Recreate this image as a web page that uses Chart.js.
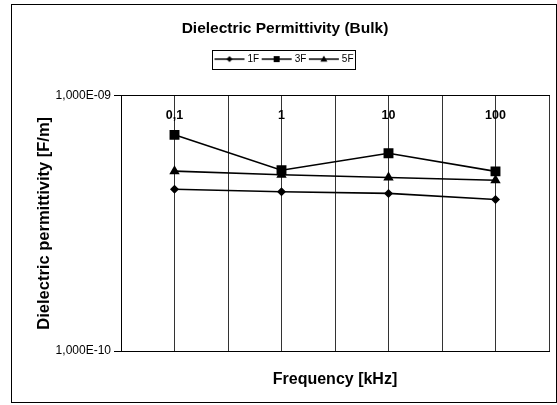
<!DOCTYPE html>
<html>
<head>
<meta charset="utf-8">
<script src="https://cdn.jsdelivr.net/npm/chart.js@4"></script>
<style>
  body { margin: 0; background: #fff; }
  #wrap { position: relative; width: 557px; height: 405px; }
  #frame { position: absolute; left: 11px; top: 4px; width: 546px; height: 399px;
           box-sizing: border-box; border: 1px solid #000; pointer-events: none; }
</style>
</head>
<body>
<div id="wrap">
  <canvas id="chart" width="557" height="405"></canvas>
  <div id="frame"></div>
</div>
<script>
const freqLabels = ['0,1', '1', '10', '100'];
const series1F = [4.30e-10, 4.20e-10, 4.14e-10, 3.92e-10];
const series3F = [7.02e-10, 5.10e-10, 5.95e-10, 5.05e-10];
const series5F = [5.06e-10, 4.90e-10, 4.78e-10, 4.66e-10];
const yTicks = [1e-10, 1e-9];

Chart.defaults.font.family = '"Liberation Sans", Arial, sans-serif';
Chart.defaults.color = '#000';

// each category sits in the middle of a pair of grid cells
function toPoints(values) {
  return values.map((v, i) => ({ x: 2 * i + 1, y: v }));
}

function sciLabel(v) {
  const exp = Math.round(Math.log10(v));
  const sign = exp < 0 ? '-' : '+';
  return '1,000E' + sign + String(Math.abs(exp)).padStart(2, '0');
}

function legendIcon(style, r) {
  const c = document.createElement('canvas');
  c.width = 32;
  c.height = 10;
  const g = c.getContext('2d');
  g.strokeStyle = '#000';
  g.lineWidth = 1.5;
  g.beginPath();
  g.moveTo(1, 5);
  g.lineTo(31, 5);
  g.stroke();
  g.fillStyle = '#000';
  g.beginPath();
  if (style === 'rectRot') {
    g.moveTo(16, 5 - r); g.lineTo(16 + r, 5); g.lineTo(16, 5 + r); g.lineTo(16 - r, 5);
  } else if (style === 'rect') {
    g.rect(16 - r, 5 - r, 2 * r, 2 * r);
  } else {
    g.moveTo(16, 5 - r); g.lineTo(16 + r, 5 + r * 0.7); g.lineTo(16 - r, 5 + r * 0.7);
  }
  g.closePath();
  g.fill();
  return c;
}

const legendIcons = [legendIcon('rectRot', 3), legendIcon('rect', 3), legendIcon('triangle', 3.5)];

const legendBorder = {
  id: 'legendBorder',
  afterDraw(chart) {
    const boxes = chart.legend.legendHitBoxes;
    if (!boxes || !boxes.length) return;
    const left = boxes[0].left - 4;
    const last = boxes[boxes.length - 1];
    const right = last.left + last.width + 2;
    const mid = boxes[0].top + boxes[0].height / 2;
    const ctx = chart.ctx;
    ctx.save();
    ctx.strokeStyle = '#000';
    ctx.lineWidth = 1;
    ctx.strokeRect(Math.round(left) + 0.5, Math.round(mid - 9.5) + 0.5, Math.round(right - left), 19);
    ctx.restore();
  }
};

function makeSet(label, values, style, radius) {
  return {
    label,
    data: toPoints(values),
    borderColor: '#000',
    backgroundColor: '#000',
    borderWidth: 1.6,
    pointStyle: style,
    pointRadius: radius,
    pointBorderWidth: 0,
    pointHoverRadius: radius,
    tension: 0
  };
}

new Chart(document.getElementById('chart'), {
  type: 'line',
  data: {
    datasets: [
      makeSet('1F', series1F, 'rectRot', 4.5),
      makeSet('3F', series3F, 'rect', 7),
      makeSet('5F', series5F, 'triangle', 6)
    ]
  },
  plugins: [legendBorder],
  options: {
    responsive: false,
    animation: false,
    layout: { padding: { left: 21, right: 8, top: 0, bottom: 0 } },
    plugins: {
      title: {
        display: true,
        text: 'Dielectric Permittivity (Bulk)',
        font: { size: 15.5, weight: 'bold' },
        color: '#000',
        padding: { top: 19, bottom: 12 }
      },
      legend: {
        display: true,
        position: 'top',
        labels: {
          usePointStyle: true,
          pointStyleWidth: 26,
          boxHeight: 10,
          padding: 4.5,
          font: { size: 10 },
          color: '#000',
          generateLabels(chart) {
            return chart.data.datasets.map((ds, i) => ({
              text: ds.label,
              pointStyle: legendIcons[i],
              fillStyle: '#000',
              strokeStyle: '#000',
              lineWidth: 0,
              hidden: false,
              datasetIndex: i
            }));
          }
        }
      },
      tooltip: { enabled: false }
    },
    scales: {
      x: {
        type: 'linear',
        position: 'top',
        min: 0,
        max: 2 * freqLabels.length,
        afterFit(scale) {
          scale.height = 21.5;
          scale.paddingLeft = 0;
          scale.paddingRight = 0;
        },
        ticks: {
          stepSize: 1,
          autoSkip: false,
          maxRotation: 0,
          mirror: true,
          padding: 12.5,
          font: { size: 12.5, weight: 'bold' },
          color: '#000',
          callback(v) {
            return v % 2 === 1 ? freqLabels[(v - 1) / 2] : '';
          }
        },
        grid: { color: '#333', lineWidth: 1, drawTicks: false },
        border: { display: true, color: '#000', width: 1 }
      },
      xb: {
        type: 'linear',
        position: 'bottom',
        min: 0,
        max: 2 * freqLabels.length,
        afterFit(scale) { scale.height = 54; },
        ticks: { display: false },
        grid: { display: false, drawTicks: false },
        border: { display: true, color: '#000', width: 1 },
        title: {
          display: true,
          text: 'Frequency [kHz]',
          font: { size: 16, weight: 'bold' },
          color: '#000',
          padding: { top: 0, bottom: 15.5 }
        }
      },
      y: {
        type: 'logarithmic',
        min: yTicks[0],
        max: yTicks[yTicks.length - 1],
        afterFit(scale) { scale.width = 100; },
        afterBuildTicks(scale) {
          scale.ticks = yTicks.map(v => ({ value: v }));
        },
        ticks: {
          padding: 3,
          font: { size: 12 },
          color: '#000',
          callback(v) { return sciLabel(v); }
        },
        grid: { drawOnChartArea: false, drawTicks: true, tickLength: 7, color: '#000' },
        border: { display: true, color: '#000', width: 1 },
        title: {
          display: true,
          text: 'Dielectric permittivity [F/m]',
          font: { size: 16.5, weight: 'bold' },
          color: '#000',
          padding: { top: 14, bottom: 0 }
        }
      }
    }
  }
});
</script>
</body>
</html>
